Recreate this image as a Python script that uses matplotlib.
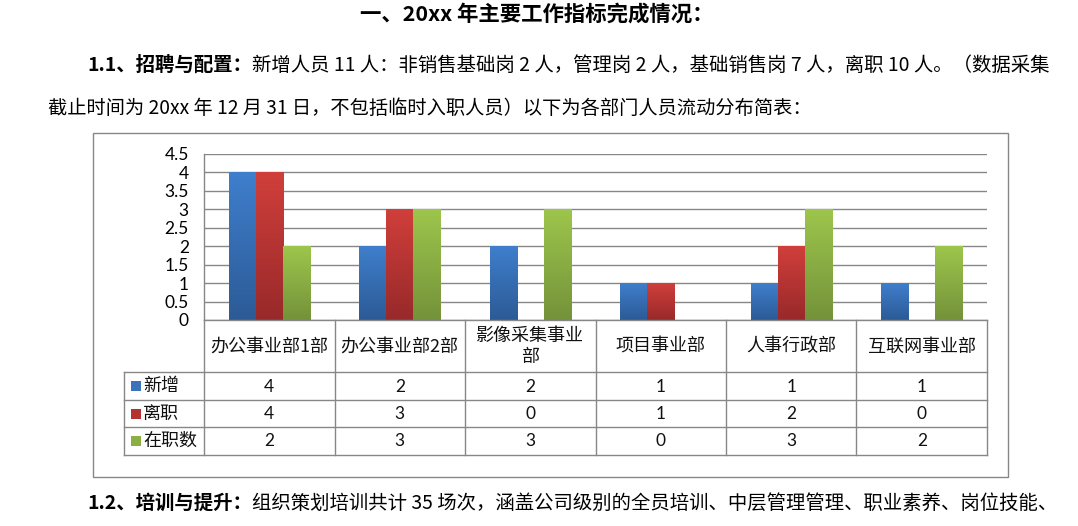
import matplotlib
matplotlib.use("Agg")
import matplotlib.pyplot as plt
import numpy as np
from matplotlib.colors import LinearSegmentedColormap
from matplotlib.patches import Rectangle
from matplotlib.lines import Line2D

# ---------------- data ----------------
categories = ["办公事业部1部", "办公事业部2部", "影像采集事业部", "项目事业部", "人事行政部", "互联网事业部"]
category_labels = ["办公事业部1部", "办公事业部2部", "影像采集事业\n部", "项目事业部", "人事行政部", "互联网事业部"]
series_names = ["新增", "离职", "在职数"]
new_hires = [4, 2, 2, 1, 1, 1]
departures = [4, 3, 0, 1, 2, 0]
on_staff = [2, 3, 3, 0, 3, 2]
y_ticks = [0, 0.5, 1, 1.5, 2, 2.5, 3, 3.5, 4, 4.5]
y_tick_labels = ["0", "0.5", "1", "1.5", "2", "2.5", "3", "3.5", "4", "4.5"]

title_text = "一、20xx 年主要工作指标完成情况："
para1_bold = "1.1、招聘与配置："
para1_rest = "新增人员 11 人：非销售基础岗 2 人，管理岗 2 人，基础销售岗 7 人，离职 10 人。（数据采集"
para2_text = "截止时间为 20xx 年 12 月 31 日，不包括临时入职人员）以下为各部门人员流动分布简表："
para3_bold = "1.2、培训与提升："
para3_rest = "组织策划培训共计 35 场次，涵盖公司级别的全员培训、中层管理管理、职业素养、岗位技能、"

# ---------------- style ----------------
W, H = 1078, 526
CJK = ["Noto Sans CJK SC", "DejaVu Sans"]
NUM = ["Lato", "DejaVu Sans"]
GRID = "#878787"
grads = [("#3F7FCC", "#2C5A96"), ("#D03F3B", "#98292A"), ("#9DC64C", "#74923A")]
solid = ["#3A73BA", "#B5332F", "#8AAF43"]

plt.rcParams["font.family"] = CJK
fig = plt.figure(figsize=(W / 100, H / 100), dpi=100)
fig.patch.set_facecolor("white")


def fxy(x, y):
    return x / W, 1 - y / H


# outer chart frame
fig.patches.append(Rectangle(fxy(93, 477), (1008 - 93) / W, (477 - 133) / H,
                             transform=fig.transFigure, fill=False,
                             edgecolor=GRID, lw=1.0, zorder=0))

# ---------------- plot area ----------------
px_left, px_right, px_top, px_bot = 204, 987, 154, 320
ax = fig.add_axes([px_left / W, 1 - px_bot / H, (px_right - px_left) / W, (px_bot - px_top) / H])
ax.set_xlim(-0.5, len(categories) - 0.5)
ax.set_ylim(0, 4.5)
ax.set_facecolor("none")
for s in ["top", "right", "bottom"]:
    ax.spines[s].set_visible(False)
ax.spines["left"].set_color(GRID)
ax.spines["left"].set_linewidth(1.0)
ax.set_xticks([])
ax.set_yticks(y_ticks)
ax.set_yticklabels(y_tick_labels, fontsize=12.5, family=NUM)
ax.tick_params(axis="y", length=0, pad=11)
for t in y_ticks:
    ax.axhline(t, color=GRID, lw=1.0, zorder=1)

x = np.arange(len(categories))
bw = 0.207
series = [new_hires, departures, on_staff]
for k, vals in enumerate(series):
    bars = ax.bar(x + (k - 1) * bw, vals, width=bw, color=solid[k], zorder=2, linewidth=0)
    cmap = LinearSegmentedColormap.from_list(f"g{k}", [grads[k][1], grads[k][0]])
    for b in bars:
        h = b.get_height()
        if h <= 0:
            continue
        bx, by, bwid = b.get_x(), b.get_y(), b.get_width()
        # soft shadow
        ax.add_patch(Rectangle((bx + 0.008, by), bwid, h - 0.02, color="#000000",
                               alpha=0.08, zorder=1.5, lw=0))
        grad = np.linspace(0, 1, 256).reshape(-1, 1)
        im = ax.imshow(grad, extent=[bx, bx + bwid, by, by + h], origin="lower",
                       aspect="auto", cmap=cmap, zorder=3)
        im.set_clip_path(b)
ax.set_xlim(-0.5, len(categories) - 0.5)
ax.set_ylim(0, 4.5)

# ---------------- data table ----------------
tb_top, tb_bot = 320, 455
tax = fig.add_axes([px_left / W, 1 - tb_bot / H, (px_right - px_left) / W, (tb_bot - tb_top) / H])
tax.set_xlim(-0.5, len(categories) - 0.5)
tax.set_ylim(tb_bot - tb_top, 0)
tax.axis("off")
col_px = (px_right - px_left) / len(categories)


def tx(xpix):
    return -0.5 + (xpix - px_left) / col_px


row_edges = [0, 52, 80, 107, 135]
leg_left = tx(124)
lw = 1.0
# horizontal lines
for i, r in enumerate(row_edges):
    x0 = -0.5 if i == 0 else leg_left
    tax.add_line(Line2D([x0, len(categories) - 0.5], [r, r], color=GRID, lw=lw, clip_on=False))
# vertical lines
for c in range(len(categories) + 1):
    xc = c - 0.5
    tax.add_line(Line2D([xc, xc], [0, row_edges[-1]], color=GRID, lw=lw, clip_on=False))
tax.add_line(Line2D([leg_left, leg_left], [row_edges[1], row_edges[-1]], color=GRID, lw=lw, clip_on=False))

# header labels
for i, lab in enumerate(category_labels):
    tax.text(i, (row_edges[0] + row_edges[1]) / 2 + 0.5, lab, ha="center", va="center",
             fontsize=13, family=CJK, linespacing=1.2, color="#111111")

# series rows
for k, vals in enumerate(series):
    yc = (row_edges[k + 1] + row_edges[k + 2]) / 2
    tax.add_patch(Rectangle((tx(131), yc - 5), tx(141) - tx(131), 10, color=solid[k],
                            clip_on=False, lw=0))
    tax.text(tx(143), yc, series_names[k], ha="left", va="center", fontsize=13,
             family=CJK, color="#111111")
    for i, v in enumerate(vals):
        tax.text(i, yc + 0.5, str(v), ha="center", va="center", fontsize=12.5,
                 family=NUM, color="#111111")

# ---------------- document text ----------------
renderer = fig.canvas.get_renderer()


def draw_line(segments, x0, x1, yc, size=13):
    def place(sz):
        objs = []
        xx = x0
        for s, wt in segments:
            t = fig.text(*fxy(xx, yc), s, fontsize=sz, fontweight=wt, ha="left",
                         va="center", family=CJK, color="black")
            bb = t.get_window_extent(renderer)
            xx += bb.width
            objs.append(t)
        return objs, xx - x0
    objs, width = place(size)
    for o in objs:
        o.remove()
    place(size * (x1 - x0) / width)


draw_line([(title_text, "bold")], 360, 715, 14, 14)
draw_line([(para1_bold, "bold"), (para1_rest, "normal")], 87, 1047, 65, 13)
draw_line([(para2_text, "normal")], 48, 808, 109, 13)
draw_line([(para3_bold, "bold"), (para3_rest, "normal")], 87, 1054, 503, 13)

fig.savefig("out.png", dpi=100, facecolor="white")
